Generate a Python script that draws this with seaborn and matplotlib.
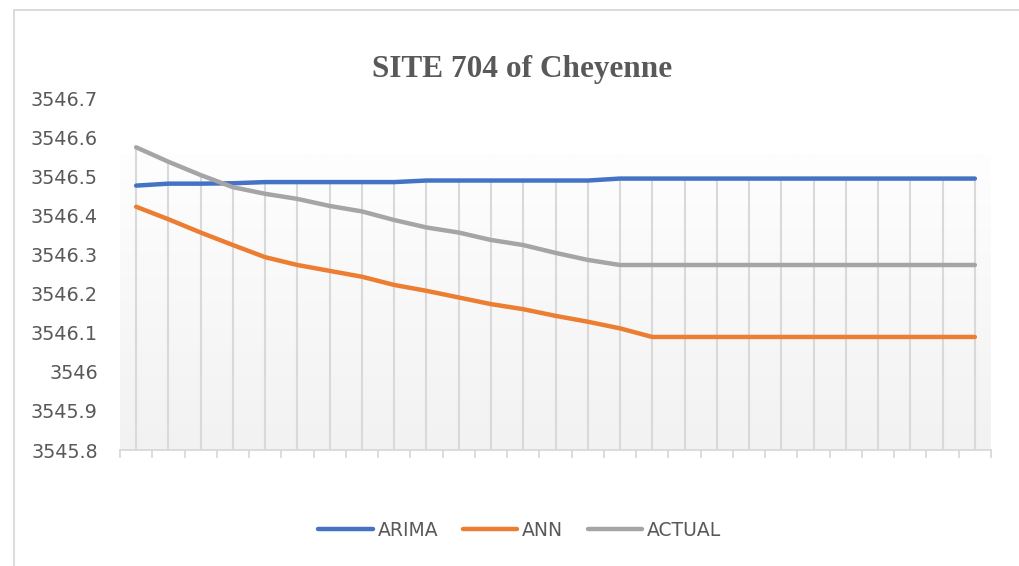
import numpy as np
import pandas as pd
import matplotlib
matplotlib.use("Agg")
import matplotlib.pyplot as plt
from matplotlib.lines import Line2D
from matplotlib.colors import LinearSegmentedColormap
import seaborn as sns

# ---- data ----
steps = list(range(1, 28))
arima = [3546.476, 3546.481, 3546.481, 3546.482, 3546.485, 3546.485, 3546.485, 3546.485,
         3546.485, 3546.489, 3546.489, 3546.489, 3546.489, 3546.489, 3546.489, 3546.494,
         3546.494, 3546.494, 3546.494, 3546.494, 3546.494, 3546.494, 3546.494, 3546.494,
         3546.494, 3546.494, 3546.494]
ann = [3546.422, 3546.390, 3546.356, 3546.324, 3546.293, 3546.273, 3546.258, 3546.243,
       3546.222, 3546.207, 3546.190, 3546.173, 3546.160, 3546.143, 3546.128, 3546.111,
       3546.089, 3546.089, 3546.089, 3546.089, 3546.089, 3546.089, 3546.089, 3546.089,
       3546.089, 3546.089, 3546.089]
actual = [3546.574, 3546.537, 3546.503, 3546.472, 3546.455, 3546.442, 3546.424, 3546.410,
          3546.388, 3546.369, 3546.356, 3546.337, 3546.324, 3546.304, 3546.286, 3546.273,
          3546.273, 3546.273, 3546.273, 3546.273, 3546.273, 3546.273, 3546.273, 3546.273,
          3546.273, 3546.273, 3546.273]
series_names = ["ARIMA", "ANN", "ACTUAL"]
colors = {"ARIMA": "#4472C4", "ANN": "#ED7D31", "ACTUAL": "#A5A5A5"}
yticks = [3545.8, 3545.9, 3546.0, 3546.1, 3546.2, 3546.3, 3546.4, 3546.5, 3546.6, 3546.7]
ytick_labels = ["3545.8", "3545.9", "3546", "3546.1", "3546.2", "3546.3", "3546.4",
                "3546.5", "3546.6", "3546.7"]
title = "SITE 704 of Cheyenne"

df = pd.DataFrame({
    "idx": list(range(len(steps))) * 3,
    "value": arima + ann + actual,
    "series": ["ARIMA"] * len(steps) + ["ANN"] * len(steps) + ["ACTUAL"] * len(steps),
})

sns.set_theme(style="white")
plt.rcParams["font.family"] = ["DejaVu Sans"]
text_col = "#595959"
grid_col = "#D9D9D9"

fig = plt.figure(figsize=(10.19, 5.66), dpi=100)
ax = fig.add_axes([120 / 1019, 1 - 450 / 566, (991 - 120) / 1019, (450 - 98) / 566])

n = len(steps)
ymin, ymax = 3545.8, 3546.7

# gradient plot-area fill
grad = np.linspace(0, 1, 256).reshape(-1, 1)
cmap = LinearSegmentedColormap.from_list("g", ["#F2F2F2", "#FEFEFE"])
ax.imshow(grad, extent=[-0.5, n - 0.5, ymin, 3546.555], origin="lower", cmap=cmap,
          aspect="auto", zorder=0, interpolation="bilinear")

# drop lines
tops = np.max(np.vstack([arima, ann, actual]), axis=0)
ax.vlines(np.arange(n), ymin, tops, color=grid_col, lw=1.5, zorder=1)

sns.lineplot(data=df, x="idx", y="value", hue="series", hue_order=series_names,
             palette=colors, lw=3.2, ax=ax, legend=False, zorder=3,
             solid_capstyle="round", solid_joinstyle="round")

ax.set_xlim(-0.5, n - 0.5)
ax.set_ylim(ymin, ymax)
ax.set_xticks(np.arange(-0.5, n, 1.0))
ax.set_xticklabels([])
ax.set_yticks(yticks)
ax.set_yticklabels(ytick_labels, fontsize=13.8, color=text_col)
ax.tick_params(axis="y", length=0, pad=16)
ax.tick_params(axis="x", length=6, width=1.3, color=grid_col, direction="out", bottom=True)
ax.set_xlabel("")
ax.set_ylabel("")
for s in ["top", "right", "left"]:
    ax.spines[s].set_visible(False)
ax.spines["bottom"].set_color(grid_col)
ax.spines["bottom"].set_linewidth(1.3)
ax.set_facecolor("none")
ax.grid(False)

# title
fig.text(522 / 1019, 1 - 69 / 566, title, ha="center", va="center",
         fontsize=22.5, fontweight="bold", color=text_col, family="Liberation Serif")

# legend
handles = [Line2D([], [], color=colors[s], lw=3.2, solid_capstyle="round") for s in series_names]
fig.legend(handles, series_names, loc="center", bbox_to_anchor=(520 / 1019, 1 - 530 / 566),
           ncol=3, frameon=False, fontsize=13.5, handlelength=2.9, handletextpad=0.27,
           columnspacing=1.3, labelcolor=text_col)

# chart border (top and left)
fig.add_artist(Line2D([14 / 1019, 14 / 1019], [0, 1 - 10 / 566], transform=fig.transFigure,
                      color="#D9D9D9", lw=1.3))
fig.add_artist(Line2D([14 / 1019, 1], [1 - 10 / 566, 1 - 10 / 566], transform=fig.transFigure,
                      color="#D9D9D9", lw=1.3))

fig.savefig("out.png", dpi=100, facecolor="white")
